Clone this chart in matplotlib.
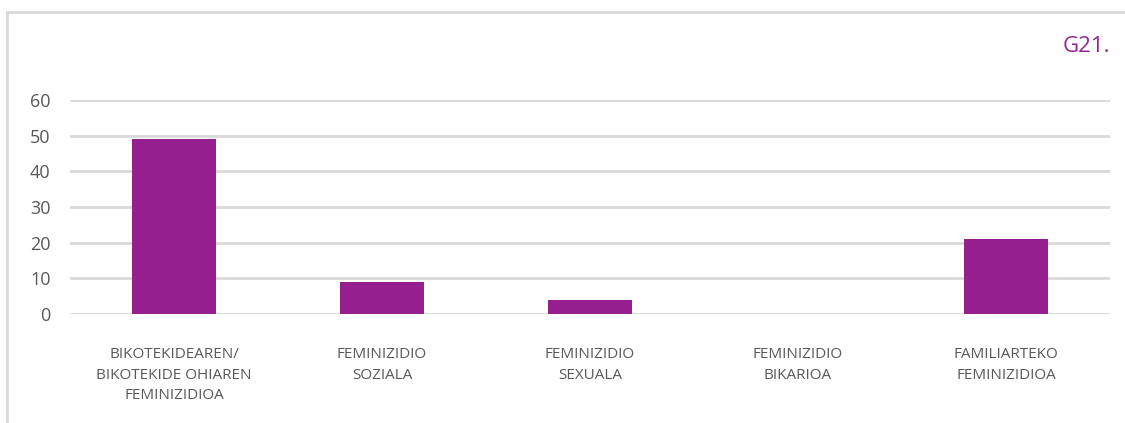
import matplotlib
matplotlib.use("Agg")
import matplotlib.pyplot as plt
from matplotlib.lines import Line2D

categories = [
    "BIKOTEKIDEAREN/\nBIKOTEKIDE OHIAREN\nFEMINIZIDIOA",
    "FEMINIZIDIO\nSOZIALA",
    "FEMINIZIDIO\nSEXUALA",
    "FEMINIZIDIO\nBIKARIOA",
    "FAMILIARTEKO\nFEMINIZIDIOA",
]
values = [49, 9, 4, 0, 21]
yticks = [0, 10, 20, 30, 40, 50, 60]
title = "G21."

W, H = 1125, 423
fig = plt.figure(figsize=(W / 100, H / 100), dpi=100)
fig.patch.set_facecolor("white")

# outer frame (light grey) at top and left
fig.add_artist(Line2D([6.5 / W, 1.0], [1 - 12 / H, 1 - 12 / H], transform=fig.transFigure,
                      color="#d9d9d9", lw=2))
fig.add_artist(Line2D([6.5 / W, 6.5 / W], [0, 1 - 12 / H], transform=fig.transFigure,
                      color="#d9d9d9", lw=2))

left, right = 70 / W, 1110 / W
bottom, top = 1 - 314 / H, 1 - 100 / H
ax = fig.add_axes([left, bottom, right - left, top - bottom])
ax.set_xlim(-0.5, len(categories) - 0.5)
ax.set_ylim(0, 60)
ax.set_yticks(yticks)
ax.set_yticklabels([str(t) for t in yticks], fontsize=13, color="#595959", family="Open Sans")
ax.yaxis.grid(True, color="#d9d9d9", lw=2)
ax.set_axisbelow(True)
for s in ax.spines.values():
    s.set_visible(False)
ax.tick_params(axis="y", length=0, pad=14)
ax.tick_params(axis="x", length=0)
ax.set_xticks([])

x = list(range(len(categories)))
ax.bar(x, values, width=0.4, color="#951F8F", zorder=3)

for i, lab in enumerate(categories):
    ax.annotate(lab, xy=(i, 0), xycoords="data", xytext=(0, -24), textcoords="offset points",
                ha="center", va="top", fontsize=11, color="#595959", family="Open Sans",
                linespacing=1.5)

fig.text(1110 / W, 1 - 47 / H, title, ha="right", va="center", fontsize=16,
         color="#92278F", family="Open Sans")

fig.savefig("out.png", dpi=100)
